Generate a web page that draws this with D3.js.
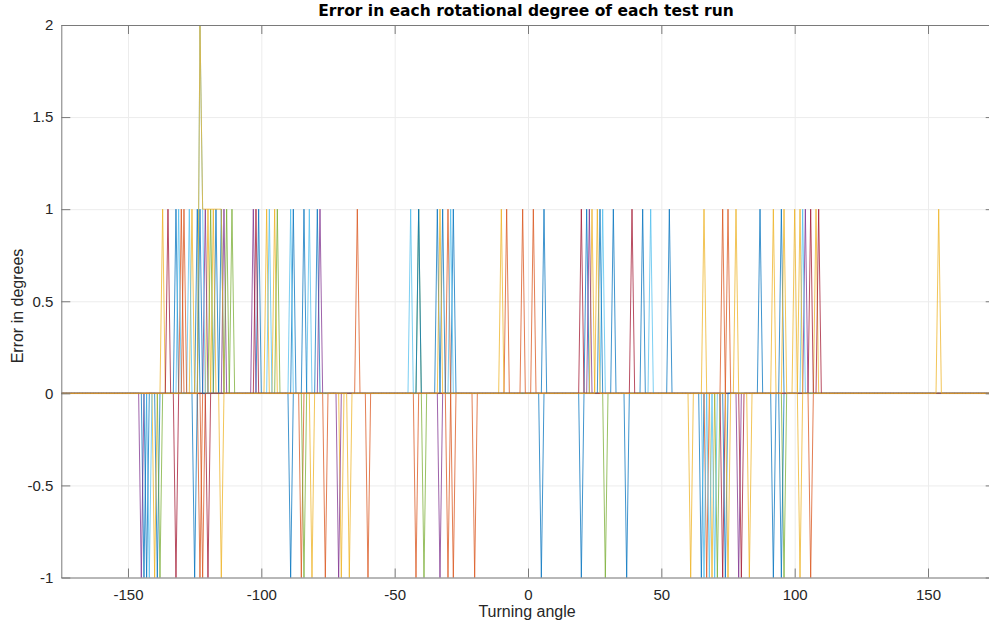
<!DOCTYPE html>
<html>
<head>
<meta charset="utf-8">
<script src="https://cdn.jsdelivr.net/npm/d3@7"></script>
<style>
  body { margin: 0; background: #fff; }
  svg { display: block; font-family: "Liberation Sans", Arial, sans-serif; }
  .tick text { fill: #262626; font-size: 15px; }
</style>
</head>
<body>
<div id="chart"></div>
<script>
// --- data ---
const xTicks = [-150, -100, -50, 0, 50, 100, 150];
const yTicks = [-1, -0.5, 0, 0.5, 1, 1.5, 2];
const runColors = ["#0072BD", "#D95319", "#EDB120", "#7E2F8E", "#77AC30",
                   "#4DBEEE", "#A2142F", "#0072BD", "#D95319", "#EDB120"];

// each run: [angle, error] pairs that are not zero
const run01 = [[-144,-1],[-139,-1],[-132,1],[-124,1],[-117,1],[-115,1],[-101,1],[-88,1],[-79,1],
               [-34,1],[-28,1],[6,1],[22,1],[32,1],[43,1],[53,1],[65,-1],[87,1],[95,1]];
const run02 = [[-130,1],[-123,-1],[-85,-1],[-64,1],[-60,-1],[-30,1],[-28,-1],[-20,-1],[-8,1],
               [2,1],[67,-1],[73,1]];
const run03 = [[-140,-1],[-137,1],[-126,1],[-120,1],[-118,1],[-115,-1],[-98,1],[-95,1],[-81,-1],
               [-70,-1],[-10,1],[24,1],[61,-1],[66,1],[69,-1],[78,1],[83,-1],[92,1],[100,1],[102,-1],[108,1]];
const run04 = [[-145,-1],[-121,1],[-114,1],[-103,1],[-78,1],[-71,-1],[-33,-1],[23,1],[79,-1],[104,1]];
const run05 = [[-138,-1],[-119,1],[-113,1],[-111,1],[-94,1],[-84,-1],[-41,1],[-39,-1],[29,-1],
               [71,-1],[96,-1]];
const run06 = [[-142,-1],[-131,1],[-127,1],[-123,2],[-122,1],[-97,1],[-89,1],[-82,1],[-44,1],
               [-29,1],[28,1],[46,1],[66,-1],[68,-1],[70,-1],[103,1]];
const run07 = [[-135,1],[-132,-1],[-120,-1],[-102,1],[20,1],[39,1],[73,-1],[80,-1],[106,1],[109,1]];
const run08 = [[-143,-1],[-125,-1],[-123,1],[-89,-1],[-84,1],[-41,1],[-32,1],[5,-1],[20,-1],
               [27,1],[37,-1],[74,-1],[92,-1],[95,-1]];
const run09 = [[-129,1],[-122,-1],[-76,-1],[-42,-1],[-30,-1],[-2,1],[75,1],[106,-1]];
const run10 = [[-123,2],[-122,1],[-121,1],[-120,1],[-119,1],[-118,1],[-117,1],[-116,1],[-115,1],
               [-67,-1],[-33,1],[26,1],[75,-1],[96,1],[102,1],[154,1]];
const runs = [run01, run02, run03, run04, run05, run06, run07, run08, run09, run10];

// --- setup ---
const width = 989, height = 625;
const plot = { left: 61.3, right: 994.7, top: 25, bottom: 577.5 };

const svg = d3.select("#chart").append("svg").attr("width", width).attr("height", height);

const x = d3.scaleLinear().domain([-175, 175]).range([plot.left, plot.right]);
const y = d3.scaleLinear().domain([-1, 2]).range([plot.bottom, plot.top]);
const angles = d3.range(-175, 176);
const fmt = d => String(d); // plain hyphen minus, like MATLAB

// grid
svg.append("g").attr("transform", `translate(0,${plot.bottom})`)
    .call(d3.axisBottom(x).tickValues(xTicks).tickSize(-(plot.bottom - plot.top)).tickFormat(""))
    .call(g => g.select(".domain").remove())
    .call(g => g.selectAll("line").attr("stroke", "#ececec"));
svg.append("g").attr("transform", `translate(${plot.left},0)`)
    .call(d3.axisLeft(y).tickValues(yTicks).tickSize(-(plot.right - plot.left)).tickFormat(""))
    .call(g => g.select(".domain").remove())
    .call(g => g.selectAll("line").attr("stroke", "#ececec"));

// lines
svg.append("clipPath").attr("id", "clip").append("rect")
    .attr("x", plot.left).attr("y", plot.top - 1)
    .attr("width", plot.right - plot.left).attr("height", plot.bottom - plot.top + 2);

const line = d3.line().x(d => x(d[0])).y(d => y(d[1]));

runs.forEach((run, i) => {
    const lookup = new Map(run);
    const values = angles.map(a => [a, lookup.has(a) ? lookup.get(a) : 0]);
    svg.append("path")
        .datum(values)
        .attr("clip-path", "url(#clip)")
        .attr("fill", "none")
        .attr("stroke", runColors[i])
        .attr("stroke-width", 0.75)
        .attr("d", line);
});

// axes (MATLAB style box, ticks pointing in)
const axisColor = "#7a7a7a";
const styleAxis = g => {
    g.select(".domain").attr("stroke", axisColor);
    g.selectAll(".tick line").attr("stroke", axisColor);
};
svg.append("g").attr("transform", `translate(0,${plot.bottom})`)
    .call(d3.axisBottom(x).tickValues(xTicks).tickSizeInner(-9).tickSizeOuter(0).tickPadding(12)
        .tickFormat(fmt))
    .call(styleAxis);
svg.append("g").attr("transform", `translate(0,${plot.top})`)
    .call(d3.axisTop(x).tickValues(xTicks).tickSizeInner(-9).tickSizeOuter(0).tickFormat(""))
    .call(styleAxis);
svg.append("g").attr("transform", `translate(${plot.left},0)`)
    .call(d3.axisLeft(y).tickValues(yTicks).tickSizeInner(-9).tickSizeOuter(0).tickPadding(8)
        .tickFormat(fmt))
    .call(styleAxis);
svg.append("g").attr("transform", `translate(${plot.right},0)`)
    .call(d3.axisRight(y).tickValues(yTicks).tickSizeInner(-9).tickSizeOuter(0).tickFormat(""))
    .call(styleAxis);

// text
svg.append("text")
    .attr("x", 526).attr("y", 16)
    .attr("text-anchor", "middle")
    .attr("font-family", "'DejaVu Sans', sans-serif")
    .attr("font-weight", "bold").attr("font-size", 15.5).attr("fill", "#000")
    .text("Error in each rotational degree of each test run");

svg.append("text")
    .attr("x", 527).attr("y", 617)
    .attr("text-anchor", "middle")
    .attr("font-size", 16).attr("fill", "#262626")
    .text("Turning angle");

svg.append("text")
    .attr("transform", "translate(23,306) rotate(-90)")
    .attr("text-anchor", "middle")
    .attr("font-size", 16).attr("fill", "#262626")
    .text("Error in degrees");
</script>
</body>
</html>
